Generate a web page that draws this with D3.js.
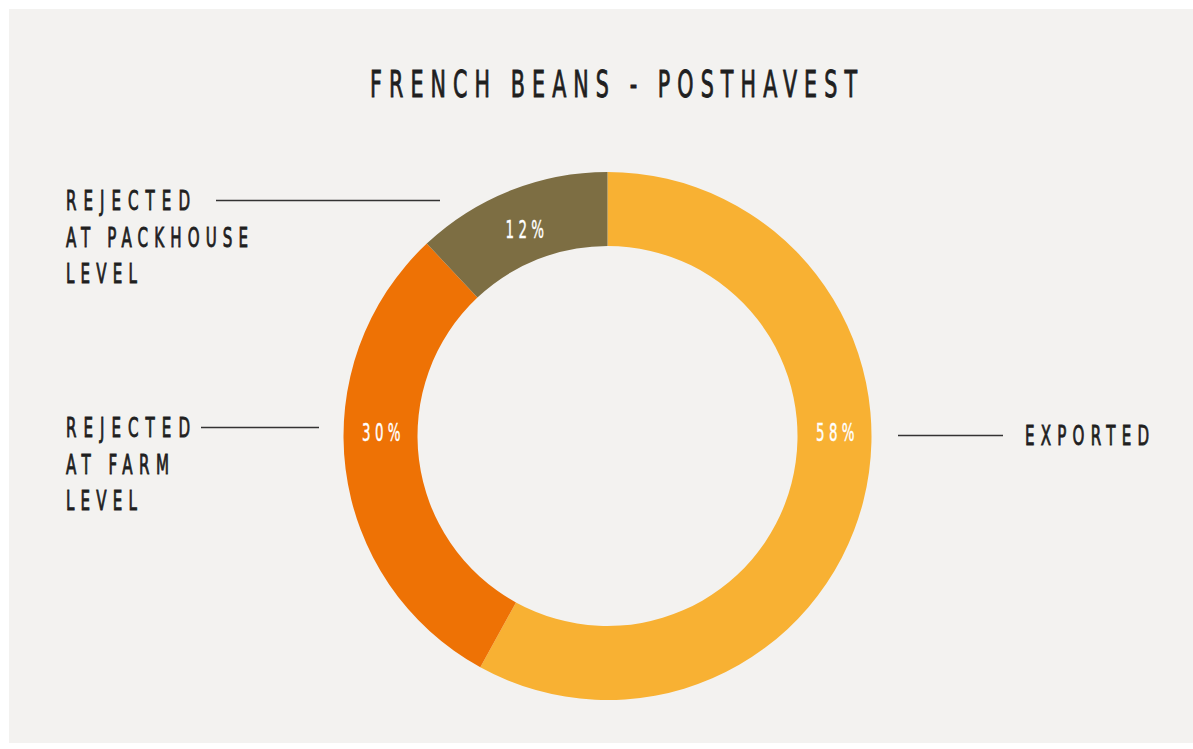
<!DOCTYPE html>
<html>
<head>
<meta charset="utf-8">
<script src="https://cdn.jsdelivr.net/npm/d3@7"></script>
<style>
  body { margin: 0; background: #ffffff; }
  svg text { font-family: "DejaVu Sans Condensed", "DejaVu Sans", sans-serif; font-stretch: condensed; }
  svg text.dark { stroke: #1f1f1f; stroke-width: 0.9px; }
</style>
</head>
<body>
<svg id="chart"></svg>
<script>
            // chart data
            var title = "FRENCH BEANS - POSTHAVEST";
            var categories = ["Exported", "Rejected at farm level", "Rejected at packhouse level"];
            var shares = [58, 30, 12];
            var labelLines = [["EXPORTED"], ["REJECTED", "AT FARM", "LEVEL"], ["REJECTED", "AT PACKHOUSE", "LEVEL"]];
            var colors = ["#f8b133", "#ee7205", "#7d6e43"];

            var w = 1193;
            var h = 749;
            var cx = 607.5, cy = 436;
            var outerR = 264, innerR = 190;
            var squeeze = 0.62; // narrow the glyphs to look like a condensed display face

            var svg = d3.select("#chart")
                        .attr("width", w)
                        .attr("height", h);

            // paper background
            svg.append("rect")
                .attr("x", 9)
                .attr("y", 9)
                .attr("width", w - 9)
                .attr("height", h - 15)
                .attr("fill", "#f3f2f0");

            // title
            svg.append("text")
                .attr("class", "dark")
                .attr("transform", "translate(613.5,97) scale(" + squeeze + ",1)")
                .attr("text-anchor", "middle")
                .attr("font-size", 37)
                .attr("fill", "#1f1f1f")
                .attr("textLength", 487 / squeeze)
                .attr("lengthAdjust", "spacing")
                .text(title);

            var pie = d3.pie().sort(null).value(function(d) { return d; });
            var arc = d3.arc().innerRadius(innerR).outerRadius(outerR);
            var arcs = pie(shares);

            var g = svg.append("g")
                .attr("transform", "translate(" + cx + "," + cy + ")");

            g.selectAll("path")
                .data(arcs)
                .enter()
                .append("path")
                .attr("d", arc)
                .attr("fill", function(d, i) { return colors[i]; });

            // percent labels: horizontal middle if the slice covers it, else centroid
            var midR = (innerR + outerR) / 2;
            g.selectAll("text.pct")
                .data(arcs)
                .enter()
                .append("text")
                .attr("class", "pct")
                .attr("text-anchor", "middle")
                .attr("font-size", 24)
                .attr("letter-spacing", 7)
                .attr("fill", "#ffffff")
                .attr("stroke", "#ffffff")
                .attr("stroke-width", 0.4)
                .attr("transform", function(d) {
                    var a;
                    if (d.startAngle <= Math.PI / 2 && d.endAngle >= Math.PI / 2) a = Math.PI / 2;
                    else if (d.startAngle <= 1.5 * Math.PI && d.endAngle >= 1.5 * Math.PI) a = 1.5 * Math.PI;
                    else a = (d.startAngle + d.endAngle) / 2;
                    var x = midR * Math.sin(a) + 3;
                    var y = -midR * Math.cos(a);
                    if (a === (d.startAngle + d.endAngle) / 2) y += 13;
                    else y += 5;
                    return "translate(" + x + "," + y + ") scale(" + squeeze + ",1)";
                })
                .text(function(d) { return d.data + "%"; });

            // category labels with leader lines
            var labelLayout = [
                { x: 1025, y: 445, line: [898, 1003], widths: [124] },
                { x: 66, y: 437, line: [201, 319], widths: [124, 103, 71] },
                { x: 66, y: 210, line: [216, 440], widths: [124, 182, 71] }
            ];

            labelLines.forEach(function(lines, i) {
                var L = labelLayout[i];
                lines.forEach(function(s, j) {
                    svg.append("text")
                        .attr("class", "dark")
                        .attr("transform", "translate(" + L.x + "," + (L.y + j * 36.5) + ") scale(" + squeeze + ",1)")
                        .attr("font-size", 27)
                        .attr("fill", "#1f1f1f")
                        .attr("textLength", L.widths[j] / squeeze)
                        .attr("lengthAdjust", "spacing")
                        .text(s);
                });
                svg.append("line")
                    .attr("x1", L.line[0])
                    .attr("x2", L.line[1])
                    .attr("y1", L.y - 9.5)
                    .attr("y2", L.y - 9.5)
                    .attr("stroke", "#333333")
                    .attr("stroke-width", 1.5);
            });
</script>
</body>
</html>
